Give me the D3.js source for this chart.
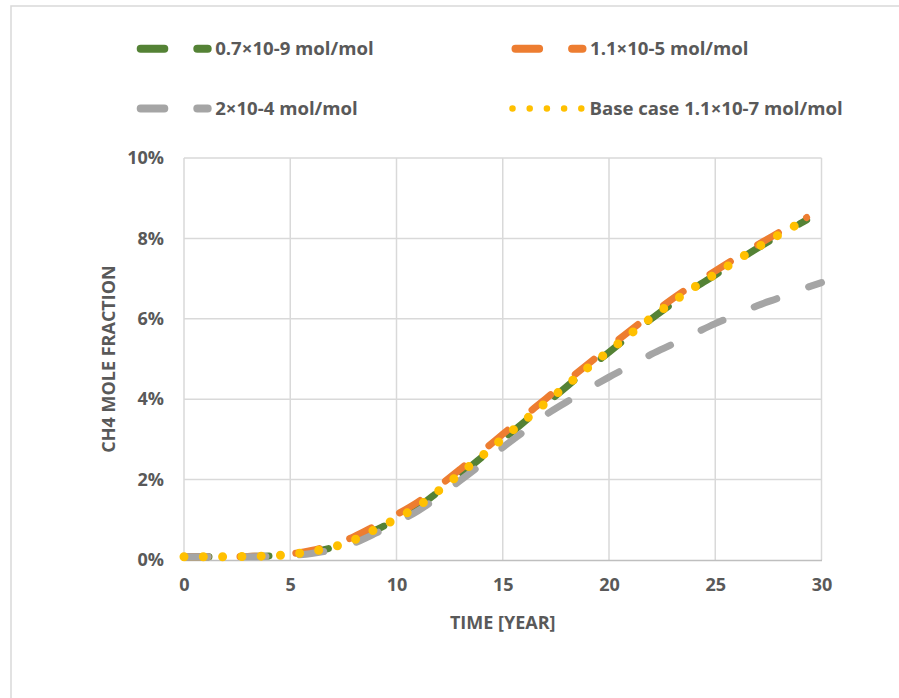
<!DOCTYPE html>
<html>
<head>
<meta charset="utf-8">
<script src="https://cdn.jsdelivr.net/npm/d3@7"></script>
<style>
  html, body { margin: 0; padding: 0; background: #ffffff; }
  svg { display: block; }
  text { font-family: "Open Sans", "Noto Sans", sans-serif; font-weight: 700; fill: #595959; }
</style>
</head>
<body>
<svg id="chart" width="899" height="698"></svg>
<script>
// ---------------- DATA ----------------
const years = [0,1,2,3,4,5,6,7,8,9,10,11,12,13,14,15,16,17,18,19,20,21,22,23,24,25,26,27,28,29,29.3];
const yearsGray = [0,1,2,3,4,5,6,7,8,9,10,11,12,13,14,15,16,17,18,19,20,21,22,23,24,25,26,27,28,29,30];

// CH4 mole fraction, in percent
const green07e9 = [0.08,0.08,0.08,0.09,0.10,0.13,0.20,0.31,0.48,0.74,1.00,1.31,1.71,2.12,2.55,2.99,3.43,3.87,4.31,4.75,5.17,5.59,6.00,6.39,6.76,7.09,7.43,7.76,8.07,8.37,8.46];
const orange11e5 = [0.08,0.08,0.08,0.09,0.10,0.15,0.24,0.38,0.58,0.85,1.13,1.44,1.84,2.26,2.69,3.13,3.57,4.00,4.44,4.87,5.29,5.71,6.11,6.50,6.86,7.19,7.52,7.84,8.15,8.44,8.52];
const gray2e4 = [0.08,0.08,0.08,0.08,0.09,0.11,0.16,0.26,0.42,0.66,0.93,1.22,1.58,1.98,2.38,2.80,3.20,3.60,3.93,4.25,4.55,4.83,5.12,5.37,5.63,5.88,6.10,6.33,6.52,6.72,6.90];
const baseCase = [0.08,0.08,0.08,0.09,0.10,0.14,0.21,0.32,0.50,0.76,1.03,1.33,1.73,2.15,2.58,3.02,3.46,3.90,4.34,4.78,5.20,5.62,6.03,6.42,6.78,7.11,7.45,7.78,8.09,8.39,8.48];

const seriesNames = ["0.7×10-9 mol/mol", "1.1×10-5 mol/mol", "2×10-4 mol/mol", "Base case 1.1×10-7 mol/mol"];
const xTicks = [0,5,10,15,20,25,30];
const yTicks = [0,2,4,6,8,10];
const xTitle = "TIME [YEAR]";
const yTitle = "CH4 MOLE FRACTION";

// ---------------- CHART ----------------
const svg = d3.select("#chart");

// outer chart border
svg.append("rect").attr("x", 11).attr("y", 6).attr("width", 950).attr("height", 750)
  .attr("fill", "none").attr("stroke", "#d9d9d9").attr("stroke-width", 1.5);

const x = d3.scaleLinear().domain([0, 30]).range([184, 821.5]);
const y = d3.scaleLinear().domain([0, 10]).range([560, 158]);

// gridlines
svg.append("g").selectAll("line.h").data(yTicks.filter(d => d > 0)).join("line")
  .attr("x1", x(0)).attr("x2", x(30)).attr("y1", d => y(d)).attr("y2", d => y(d))
  .attr("stroke", "#d9d9d9").attr("stroke-width", 1.5);
svg.append("g").selectAll("line.v").data(xTicks).join("line")
  .attr("x1", d => x(d)).attr("x2", d => x(d)).attr("y1", y(0)).attr("y2", y(10))
  .attr("stroke", "#d9d9d9").attr("stroke-width", 1.5);

// x axis
const xAxis = svg.append("g").attr("transform", `translate(0,${y(0)})`)
  .call(d3.axisBottom(x).tickValues(xTicks).tickSize(0).tickPadding(18).tickFormat(d3.format("d")));
xAxis.select(".domain").attr("stroke", "#bfbfbf").attr("stroke-width", 1.5);
xAxis.selectAll("text").style("font-size", "18px").attr("fill", "#595959");

// y axis
const yAxis = svg.append("g").attr("transform", `translate(${x(0)},0)`)
  .call(d3.axisLeft(y).tickValues(yTicks).tickSize(0).tickPadding(20).tickFormat(d => d + "%"));
yAxis.select(".domain").remove();
yAxis.selectAll("text").style("font-size", "18px").attr("fill", "#595959");

// axis titles
svg.append("text").attr("x", (x(0) + x(30)) / 2).attr("y", 629).attr("text-anchor", "middle")
  .style("font-size", "18px").text(xTitle);
svg.append("text").attr("transform", `translate(115,359) rotate(-90)`).attr("text-anchor", "middle")
  .style("font-size", "18px").text(yTitle);

// series
const line = d3.line().x(d => x(d[0])).y(d => y(d[1])).curve(d3.curveMonotoneX);
const zip = (a, b) => a.map((t, i) => [t, b[i]]);

const series = [
  { pts: zip(years, green07e9), color: "#548235", dash: "25,35", w: 7 },
  { pts: zip(years, orange11e5), color: "#ed7d31", dash: "24,32", w: 7 },
  { pts: zip(yearsGray, gray2e4), color: "#a5a5a5", dash: "24,34", w: 7 },
  { pts: zip(years, baseCase), color: "#ffc000", dash: "0,19.3", w: 9 }
];

const plot = svg.append("g");
series.forEach(s => {
  plot.append("path").datum(s.pts).attr("d", line)
    .attr("fill", "none").attr("stroke", s.color).attr("stroke-width", s.w)
    .attr("stroke-linecap", "round").attr("stroke-linejoin", "round")
    .attr("stroke-dasharray", s.dash);
});

// legend
const legendItems = [
  { name: seriesNames[0], color: "#548235", dots: false, lx: 140.7, ly: 48.7 },
  { name: seriesNames[1], color: "#ed7d31", dots: false, lx: 515.5, ly: 48.7 },
  { name: seriesNames[2], color: "#a5a5a5", dots: false, lx: 140.7, ly: 108.5 },
  { name: seriesNames[3], color: "#ffc000", dots: true, lx: 512.5, ly: 108.5 }
];
const lg = svg.append("g");
legendItems.forEach(it => {
  if (it.dots) {
    lg.append("line").attr("x1", it.lx).attr("x2", it.lx + 70).attr("y1", it.ly).attr("y2", it.ly)
      .attr("stroke", it.color).attr("stroke-width", 6.5).attr("stroke-linecap", "round")
      .attr("stroke-dasharray", "0,17.2");
  } else {
    lg.append("line").attr("x1", it.lx).attr("x2", it.lx + 67).attr("y1", it.ly).attr("y2", it.ly)
      .attr("stroke", it.color).attr("stroke-width", 8).attr("stroke-linecap", "round")
      .attr("stroke-dasharray", "23.6,33");
  }
  lg.append("text").attr("x", it.dots ? it.lx + 77 : it.lx + 74.5).attr("y", it.ly + 6)
    .style("font-size", "18.6px").text(it.name);
});
</script>
</body>
</html>
